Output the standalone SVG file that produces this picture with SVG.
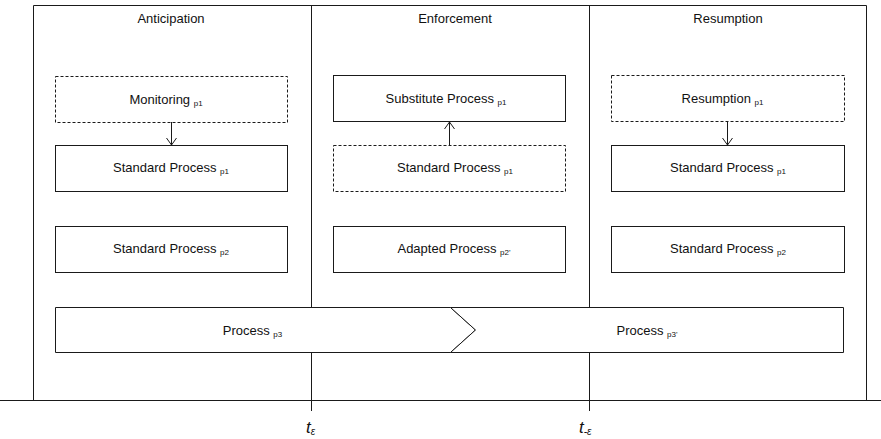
<svg xmlns="http://www.w3.org/2000/svg" width="881" height="439" viewBox="0 0 881 439">
<style>
.ln{stroke:#1a1a1a;stroke-width:1;fill:none}
.bx{stroke:#1a1a1a;stroke-width:1;fill:#fff}
.ds{stroke:#1a1a1a;stroke-width:1;fill:#fff;stroke-dasharray:3,2}
.t{font-family:"Liberation Sans",Arial,sans-serif;font-size:13px;fill:#111}
.s{font-size:8px}
.tt{font-family:"Liberation Sans",Arial,sans-serif;font-size:17px;font-style:italic;fill:#111}
</style>
<defs>
<marker id="ah" markerWidth="12" markerHeight="12" refX="10" refY="6" orient="auto" markerUnits="userSpaceOnUse">
<path d="M3,1 L10,6 L3,11" fill="none" stroke="#1a1a1a" stroke-width="1"/>
</marker>
</defs>
<rect width="881" height="439" fill="#fff"/>
<g id="frame">
<path class="ln" d="M33.5,400 V5.5 H866.5 V400"/>
<path class="ln" d="M311.5,5 V411 M589.5,5 V411"/>
<path class="ln" d="M0,400.5 H881"/>
</g>
<g id="headers">
<text class="t" x="171" y="23" text-anchor="middle">Anticipation</text>
<text class="t" x="455" y="23" text-anchor="middle">Enforcement</text>
<text class="t" x="728" y="23" text-anchor="middle">Resumption</text>
</g>
<g id="monitoring">
<rect class="ds" x="55.5" y="76.5" width="232" height="46"/>
<text class="t" x="166" y="104" text-anchor="middle">Monitoring <tspan class="s" dy="2">p1</tspan></text>
</g>
<g id="std-p1-a">
<rect class="bx" x="55.5" y="145.5" width="232" height="46"/>
<text class="t" x="171" y="172" text-anchor="middle">Standard Process <tspan class="s" dy="2">p1</tspan></text>
</g>
<g id="std-p2-a">
<rect class="bx" x="55.5" y="226.5" width="232" height="46"/>
<text class="t" x="171" y="253" text-anchor="middle">Standard Process <tspan class="s" dy="2">p2</tspan></text>
</g>
<g id="substitute">
<rect class="bx" x="333.5" y="75.5" width="232" height="46"/>
<text class="t" x="446" y="103" text-anchor="middle">Substitute Process <tspan class="s" dy="2">p1</tspan></text>
</g>
<g id="std-p1-e">
<rect class="ds" x="333.5" y="145.5" width="232" height="46"/>
<text class="t" x="455" y="172" text-anchor="middle">Standard Process <tspan class="s" dy="2">p1</tspan></text>
</g>
<g id="adapted">
<rect class="bx" x="333.5" y="226.5" width="232" height="46"/>
<text class="t" x="454" y="253" text-anchor="middle">Adapted Process <tspan class="s" dy="2">p2'</tspan></text>
</g>
<g id="resumption">
<rect class="ds" x="611.5" y="75.5" width="233" height="46"/>
<text class="t" x="722.5" y="103" text-anchor="middle">Resumption <tspan class="s" dy="2">p1</tspan></text>
</g>
<g id="std-p1-r">
<rect class="bx" x="611.5" y="145.5" width="233" height="46"/>
<text class="t" x="728" y="172" text-anchor="middle">Standard Process <tspan class="s" dy="2">p1</tspan></text>
</g>
<g id="std-p2-r">
<rect class="bx" x="611.5" y="226.5" width="233" height="46"/>
<text class="t" x="728" y="253" text-anchor="middle">Standard Process <tspan class="s" dy="2">p2</tspan></text>
</g>
<g id="process-p3">
<polygon class="bx" points="55.5,307.5 450.5,307.5 475.5,330 450.5,352.5 55.5,352.5"/>
<text class="t" x="252.5" y="335" text-anchor="middle">Process <tspan class="s" dy="2">p3</tspan></text>
</g>
<g id="process-p3b">
<polygon class="bx" points="450.5,307.5 843.5,307.5 843.5,352.5 450.5,352.5 475.5,330"/>
<text class="t" x="647" y="335" text-anchor="middle">Process <tspan class="s" dy="2">p3'</tspan></text>
</g>
<g id="connectors">
<line class="ln" x1="171.5" y1="122" x2="171.5" y2="145" marker-end="url(#ah)"/>
<line class="ln" x1="449.5" y1="145" x2="449.5" y2="122" marker-end="url(#ah)"/>
<line class="ln" x1="727.5" y1="122" x2="727.5" y2="145" marker-end="url(#ah)"/>
</g>
<g id="time-labels">
<text class="tt" x="306" y="433">t<tspan font-size="10" dy="2">ε</tspan></text>
<text class="tt" x="579" y="433">t<tspan font-size="10" dy="2">-ε</tspan></text>
</g>
</svg>
